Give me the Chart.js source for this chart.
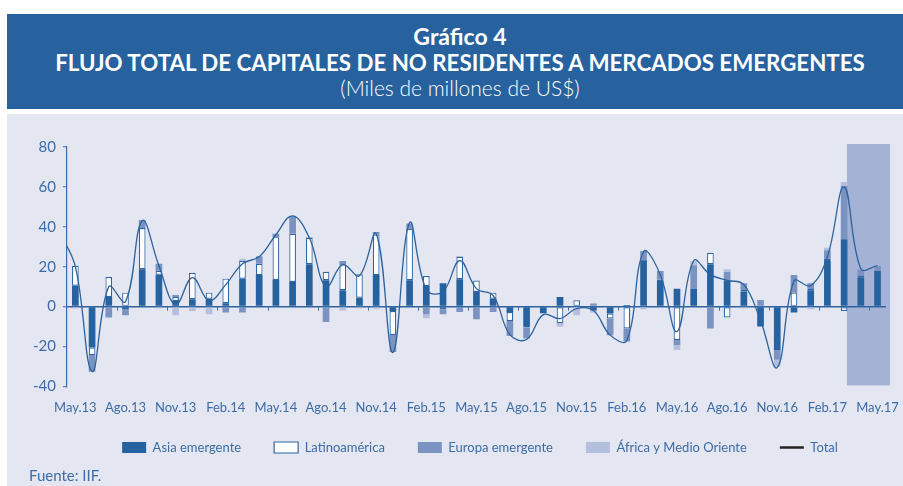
<!DOCTYPE html>
<html>
<head>
<meta charset="utf-8">
<script src="https://cdn.jsdelivr.net/npm/chart.js@4.4.0/dist/chart.umd.min.js"></script>
<style>
body { margin: 0; width: 903px; height: 486px; background: #fff; position: relative; overflow: hidden; font-family: Lato, sans-serif; }
#head { position: absolute; left: 7px; top: 14px; width: 896px; height: 95px; background: #27629f; color: #fff; }
#head div { position: absolute; left: 0; width: 100%; padding-left: 10px; box-sizing: border-box; text-align: center; height: 26px; line-height: 26px; white-space: nowrap; }
#t1 { top: 9px; font-weight: bold; font-size: 23px; }
#t2 { top: 36px; font-weight: bold; font-size: 22.3px; }
#t3 { top: 61px; font-size: 21px; font-weight: 300; }
#panel { position: absolute; left: 7px; top: 114px; width: 896px; height: 372px; background: #e4e6f1; }
#myChart { position: absolute; left: 0; top: 0; }
#fuente { position: absolute; left: 22px; top: 352px; font-size: 15px; line-height: 18px; color: #3d6ca6; }
</style>
</head>
<body>
<div id="head">
  <div id="t1">Gráfico 4</div>
  <div id="t2">FLUJO TOTAL DE CAPITALES DE NO RESIDENTES A MERCADOS EMERGENTES</div>
  <div id="t3">(Miles de millones de US$)</div>
</div>
<div id="panel">
  <canvas id="myChart" width="906" height="384"></canvas>
  <div id="fuente">Fuente: IIF.</div>
</div>
<script>
var months = ['May.13', 'Jun.13', 'Jul.13', 'Ago.13', 'Sep.13', 'Oct.13', 'Nov.13', 'Dic.13',
  'Ene.14', 'Feb.14', 'Mar.14', 'Abr.14', 'May.14', 'Jun.14', 'Jul.14', 'Ago.14', 'Sep.14', 'Oct.14', 'Nov.14', 'Dic.14',
  'Ene.15', 'Feb.15', 'Mar.15', 'Abr.15', 'May.15', 'Jun.15', 'Jul.15', 'Ago.15', 'Sep.15', 'Oct.15', 'Nov.15', 'Dic.15',
  'Ene.16', 'Feb.16', 'Mar.16', 'Abr.16', 'May.16', 'Jun.16', 'Jul.16', 'Ago.16', 'Sep.16', 'Oct.16', 'Nov.16', 'Dic.16',
  'Ene.17', 'Feb.17', 'Mar.17', 'Abr.17', 'May.17'];

var asia = [10.5, -20.5, 4.8, -1.3, 18.7, 16, 2.8, 3.7,
  4, 1.7, 14, 15.8, 13.3, 12.3, 21.2, 13.2, 8.2, 4.5, 15.8, -2.2,
  13.2, 10.3, 11.7, 13.7, 7.3, 4, -2.7, -9.7, -3.3, 4.8, 0, -2,
  -3.5, 0.8, 23.2, 12.8, 9, 9, 21.2, 13.2, 7.5, -10, -21.7, -3,
  8.2, 22.8, 33.7, 14.5, 17.8];
var latam = [10, -3.8, 10, 7, 20.7, 2, 2, 13.3,
  3, 12.3, 8.8, 5.7, 21.5, 24.2, 13.3, 4.3, 13, 11.7, 20.3, -12,
  25.8, 5, -1.3, 11.2, 5.8, 3, -4.5, -0.8, 0, -8.3, 3.2, 0,
  -2.5, -11, 0, 0.8, -16.7, 0, 5.8, -5.5, 1.2, 0, 0, 7,
  1, 1.2, -2.2, 0.8, 0];
var europa = [0, -8.3, -5.5, -3, 4, 3.5, 1, 0,
  0, -3, -3, 3.8, 1.7, 8.8, 0.3, -7.7, 1.7, 0, 1.3, -8.5,
  2.7, -3.8, -2.5, -2.7, -6.3, -2.7, -7.5, -5.5, 0, 0, 0, 1.5,
  -8.3, -6.5, 4.7, 4.2, -2.5, 11.7, -11, 4.2, 3, 3.3, -5, 8.8,
  2.5, 4.3, 26.7, 3.3, 2.5];
var africa = [-1, 0, 0, 0, 0, -1, -4.3, -2.2,
  -3.8, 0, 1.2, 0, 0, 0, 0, 0, -2, -1, -1.3, 0,
  0, -2, 0, 0.5, 0, 0, 0, 0, 0, -1.7, -4.3, -1,
  0, 0, -1.3, 0, -2.5, 2, 0, 1.3, -1, 0, -3.3, 0,
  -1.3, 1.2, 2, 0, 0];
var total = [20, -32.5, 10, 2.5, 43, 20.5, 1, 14.5,
  3, 11, 21.5, 25, 36, 45.5, 34.5, 10, 21, 15.5, 36.5, -23,
  42, 8.5, 7.5, 23, 9, 5.5, -14, -16.5, -4, -6, -1, -2,
  -14.3, -17, 27.5, 16, -12.5, 23, 16, 13.2, 11, -7, -30.5, 12.8,
  10.5, 25, 60, 19, 20.5];
var totalAbr13 = 38;  // mes previo, solo se ve el tramo que entra por el eje
var tickIdx = [0, 3, 6, 9, 12, 15, 18, 21, 24, 27, 30, 33, 36, 39, 42, 45, 48];

var azul = '#3d6ca6';

function pts(arr) {
  return arr.map(function (v, i) { return { x: i, y: v }; });
}

Chart.defaults.font.family = 'Lato';

var extras = {
  id: 'extras',
  afterLayout: function (chart) {
    var l = chart.legend;
    l.left += 29; l.right += 29; l.top -= 22; l.bottom -= 22;
  },
  beforeDraw: function (chart) {
    // zona sombreada abr-may 17
    var x = chart.scales.x, y = chart.scales.y, c = chart.ctx;
    var x0 = x.getPixelForValue(46.17), x1 = x.getPixelForValue(48.75);
    var y0 = y.getPixelForValue(81.5), y1 = y.getPixelForValue(-39.5);
    c.save();
    c.fillStyle = '#a4b2d5';
    c.fillRect(x0, y0, x1 - x0, y1 - y0);
    c.restore();
  },
  afterDatasetsDraw: function (chart) {
    // marcas trimestrales sobre la linea del cero
    var x = chart.scales.x, y0 = chart.scales.y.getPixelForValue(0), c = chart.ctx;
    c.save();
    c.strokeStyle = azul;
    c.lineWidth = 1;
    for (var v = 2.5; v < 48; v += 3) {
      var px = Math.round(x.getPixelForValue(v)) + 0.5;
      c.beginPath();
      c.moveTo(px, y0);
      c.lineTo(px, y0 + 4);
      c.stroke();
    }
    c.restore();
  }
};

var ctx = document.getElementById('myChart');
var myChart = new Chart(ctx, {
  type: 'bar',
  data: {
    datasets: [{
      label: 'Asia emergente',
      data: pts(asia),
      backgroundColor: '#26629f',
      pointStyle: 'rect'
    }, {
      label: 'Latinoamérica',
      data: pts(latam),
      backgroundColor: '#ffffff',
      borderColor: '#2f67a5',
      borderWidth: 1.2,
      borderSkipped: false,
      pointStyle: 'rect'
    }, {
      label: 'Europa emergente',
      data: pts(europa),
      backgroundColor: '#7b93c1',
      pointStyle: 'rect'
    }, {
      label: 'África y Medio Oriente',
      data: pts(africa),
      backgroundColor: '#b3bfdd',
      pointStyle: 'rect'
    }, {
      type: 'line',
      label: 'Total',
      data: [{ x: -1, y: totalAbr13 }].concat(pts(total)),
      borderColor: '#2c629e',
      backgroundColor: '#2c629e',
      borderWidth: 1.3,
      pointRadius: 0,
      tension: 0.4,
      stack: 'total',
      order: -1,
      pointStyle: 'line'
    }]
  },
  options: {
    responsive: false,
    animation: false,
    datasets: {
      bar: { barPercentage: 0.4, categoryPercentage: 1 }
    },
    layout: { padding: { top: 33, right: 18, bottom: 12, left: 0 } },
    plugins: {
      tooltip: { enabled: false },
      legend: {
        position: 'bottom',
        labels: {
          usePointStyle: true,
          pointStyleWidth: 24,
          boxWidth: 24,
          boxHeight: 11,
          padding: 33,
          color: azul,
          font: { size: 13 },
          sort: function (a, b) { return a.datasetIndex - b.datasetIndex; },
          generateLabels: function (chart) {
            var items = Chart.defaults.plugins.legend.labels.generateLabels(chart);
            items.forEach(function (it) {
              if (it.text === 'Total') { it.strokeStyle = '#222'; it.lineWidth = 2.5; }
            });
            return items;
          }
        }
      }
    },
    scales: {
      x: {
        type: 'linear',
        min: -0.5,
        max: 48.5,
        offset: false,
        stacked: true,
        grid: { display: false, drawTicks: false },
        border: { display: false },
        afterBuildTicks: function (s) {
          s.ticks = tickIdx.map(function (v) { return { value: v }; });
        },
        ticks: {
          padding: 14,
          color: azul,
          font: { size: 13 },
          maxRotation: 0,
          autoSkip: false,
          callback: function (v) { return months[v]; }
        }
      },
      y: {
        stacked: true,
        min: -40,
        max: 80,
        afterFit: function (s) { s.width = 60; },
        ticks: { stepSize: 20, padding: 7, color: azul, font: { size: 15 } },
        grid: {
          color: function (c) { return c.tick.value === 0 ? '#2e63a0' : 'rgba(0,0,0,0)'; },
          lineWidth: 1.5,
          tickLength: 4,
          tickWidth: 1,
          tickColor: azul
        },
        border: { color: azul, width: 1.2 }
      }
    }
  },
  plugins: [extras]
});
</script>
</body>
</html>
